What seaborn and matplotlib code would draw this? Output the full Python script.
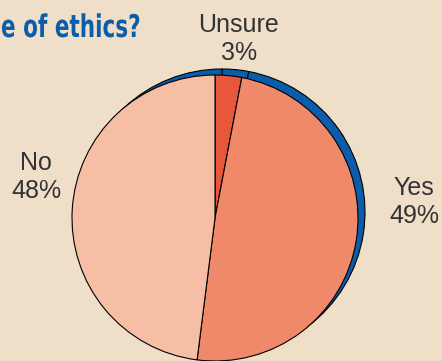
import matplotlib
matplotlib.use("Agg")
import matplotlib.pyplot as plt
import seaborn as sns
from matplotlib.patheffects import AbstractPathEffect
from matplotlib.transforms import Affine2D

categories = ["Unsure", "Yes", "No"]
values = [3, 49, 48]
title_text = "e of ethics?"

BG = "#efdec8"
BLUE = "#0b5dab"
palette = sns.color_palette(["#e8573c", "#f0886a", "#f7bea6"])

sns.set_style("white")
plt.rcParams["font.family"] = ["Liberation Sans", "DejaVu Sans"]


class Squeeze(AbstractPathEffect):
    """Horizontally condense text glyphs about a display x origin."""
    def __init__(self, sx, x0):
        super().__init__()
        self.sx, self.x0 = sx, x0

    def draw_path(self, renderer, gc, tpath, affine, rgbFace=None):
        t = affine + Affine2D().translate(-self.x0, 0).scale(self.sx, 1).translate(self.x0, 0)
        renderer.draw_path(gc, tpath, t, rgbFace)


W, H = 442, 361
fig = plt.figure(figsize=(W / 100, H / 100), dpi=100, facecolor=BG)
ax = fig.add_axes([0, 0, 1, 1])
ax.set_facecolor(BG)

cx, cy, r = 215, H - 218, 143
# blue rim (back layer)
ax.pie(values, startangle=90, counterclock=False, colors=[BLUE] * len(values),
       center=(cx + 7, cy + 6), radius=r,
       wedgeprops=dict(edgecolor="black", linewidth=0.8))
# front pie
ax.pie(values, startangle=90, counterclock=False, colors=palette,
       center=(cx, cy), radius=r,
       wedgeprops=dict(edgecolor="black", linewidth=0.8))

ax.set_xlim(0, W)
ax.set_ylim(0, H)
ax.set_aspect("equal")
ax.axis("off")

lab_pos = {"Unsure": (239, 39), "Yes": (414, 202), "No": (36, 177)}
for cat, v in zip(categories, values):
    x, y = lab_pos[cat]
    ax.text(x, H - y, f"{cat}\n{v}%", ha="center", va="center",
            fontsize=18, color="#333333", linespacing=1.2)

x0 = 1
fig.text(x0 / W, 1 - 37 / H, title_text, ha="left", va="baseline",
         fontsize=22.5, fontweight="bold", color=BLUE, family="DejaVu Sans",
         path_effects=[Squeeze(0.69, x0)])

fig.savefig("out.png", dpi=100, facecolor=BG)
